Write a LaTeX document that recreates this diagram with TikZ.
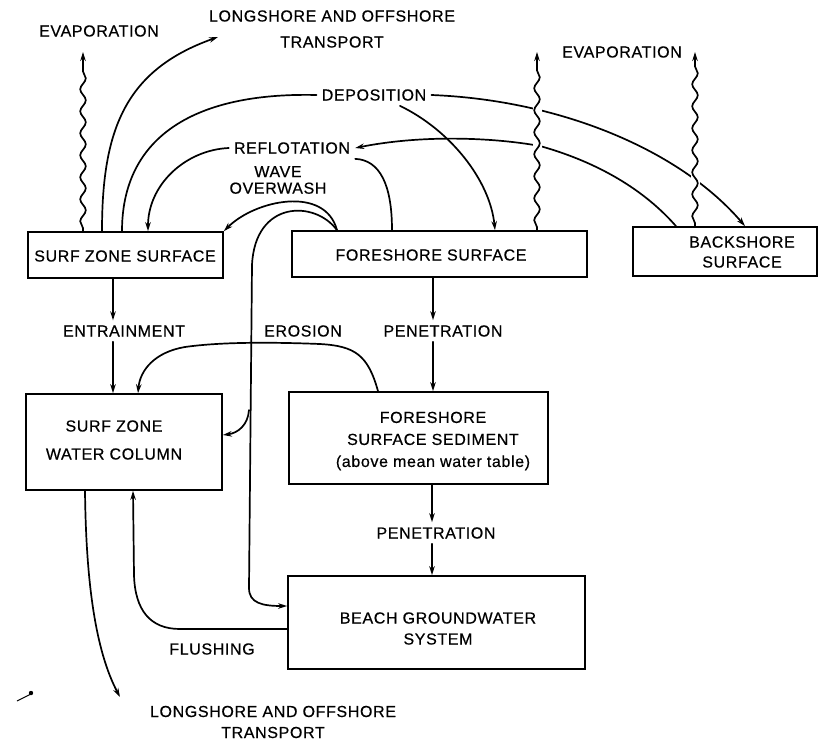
\documentclass[tikz,border=0pt]{standalone}
\usepackage{fontspec}
\setmainfont{Liberation Sans}[LetterSpace=4.0, FakeBold=0.5]
\usetikzlibrary{arrows.meta,decorations.pathmorphing,calc}
\begin{document}
\begin{tikzpicture}[x=1pt,y=-1pt,
  ln/.style={line width=1.7pt, line cap=round},
  arr/.style={-{Stealth[length=9pt,width=5.5pt]}},
  boxn/.style={draw, line width=1.7pt, inner sep=0pt},
  lbl/.style={inner sep=5pt, align=center, font=\fontsize{16}{20}\selectfont},
  wavy/.style={ln, arr, decorate, decoration={snake, amplitude=2.8pt, segment length=22pt, pre length=3pt, post length=9pt}},
  gap/.style={draw=white, line width=9pt}
]
\fill[white] (0,0) rectangle (819,742);
\useasboundingbox (0,0) rectangle (819,742);

% boxes
\node[boxn, minimum width=195pt, minimum height=46pt] (szs) at (125.5,255) {};
\node[boxn, minimum width=295pt, minimum height=46pt] (fss) at (439.5,254) {};
\node[boxn, minimum width=184pt, minimum height=49pt] (bss) at (725,251.5) {};
\node[boxn, minimum width=196pt, minimum height=96pt] (szwc) at (124,442) {};
\node[boxn, minimum width=259pt, minimum height=92pt] (fsed) at (418.5,438) {};
\node[boxn, minimum width=297pt, minimum height=93pt] (bgw) at (436.5,622.5) {};

% box texts
\node[lbl] (szsT) at (125,256) {SURF ZONE SURFACE};
\node[lbl] (fssT) at (431,255) {FORESHORE SURFACE};
\node[lbl] (bssT) at (742,252) {BACKSHORE\\SURFACE};
\node[lbl, font=\fontsize{16}{28}\selectfont] (szwcT) at (114,440) {SURF ZONE\\WATER COLUMN};
\node[lbl, font=\fontsize{16}{22}\selectfont] (fsedT) at (433,441) {FORESHORE\\SURFACE SEDIMENT\\(above mean water table)};
\node[lbl, font=\fontsize{16}{21}\selectfont] (bgwT) at (438,628.5) {BEACH GROUNDWATER\\SYSTEM};

% free labels
\node[lbl] (evapL) at (99,31) {EVAPORATION};
\node[lbl, font=\fontsize{16}{26}\selectfont] (lsTop) at (332,29) {LONGSHORE AND OFFSHORE\\TRANSPORT};
\node[lbl] (dep) at (374,95) {DEPOSITION};
\node[lbl] (refl) at (292,148) {REFLOTATION};
\node[lbl, font=\fontsize{16}{16.5}\selectfont] (wave) at (278,180) {WAVE\\OVERWASH};
\node[lbl] (evapR) at (622,52) {EVAPORATION};
\node[lbl] (entr) at (124,331) {ENTRAINMENT};
\node[lbl] (eros) at (303,331) {EROSION};
\node[lbl] (pen1) at (443,331) {PENETRATION};
\node[lbl] (pen2) at (436,533) {PENETRATION};
\node[lbl] (flush) at (212,649) {FLUSHING};
\node[lbl, font=\fontsize{16}{21}\selectfont] (lsBot) at (273,722) {LONGSHORE AND OFFSHORE\\TRANSPORT};

% free ends
\coordinate (lsTopTip) at (218,37);
\coordinate (lsBotTip) at (120,697);
\coordinate (evTip1) at (83,52);
\coordinate (evTip2) at (537,52);
\coordinate (evTip3) at (695,52);
\coordinate (ovbr) at (249,410);

% longshore (top)
\draw[ln, arr] (102,0 |- szs.north) .. controls (102,130) and (125,70) .. (lsTopTip);
% deposition
\draw[ln] (dep.west) .. controls (190,92) and (122,140) .. (122,0 |- szs.north);
\draw[ln, arr] (dep.east) .. controls (560,100) and (680,150) .. (745,0 |- bss.north);
\draw[ln, arr] (400,0 |- dep.south) .. controls (450,130) and (490,180) .. (495,0 |- fss.north);
% reflotation
\draw[ln, arr] (676,0 |- bss.north) .. controls (640,185) and (590,160) .. (540,146)
   .. controls (490,137) and (420,135) .. (refl.east);
\draw[ln] (392,0 |- fss.north) .. controls (392,185) and (380,160) .. (refl.south east);
\draw[ln, arr] (refl.west) .. controls (185,150) and (148,185) .. (148,0 |- szs.north);
% wave overwash
\draw[ln, arr] (337,0 |- fss.north) .. controls (325,185) and (255,200) .. (szs.north east);
\draw[ln, arr] (337,0 |- fss.north) .. controls (315,200) and (255,200) .. (252,265)
   -- (249,588) .. controls (249,603) and (262,606) .. (bgw.west |- 0,606);
\draw[ln, arr] (ovbr) .. controls (248,425) and (238,433) .. (szwc.east |- 0,435);
% erosion
\draw[ln, arr] (378,0 |- fsed.north) .. controls (368,355) and (355,346) .. (320,344)
   .. controls (270,342) and (220,342) .. (185,347)
   .. controls (155,352) and (140,370) .. (138,0 |- szwc.north);
% vertical flows
\draw[ln, arr] (113,0 |- szs.south) -- (113,0 |- entr.north);
\draw[ln, arr] (113,0 |- entr.south) -- (113,0 |- szwc.north);
\draw[ln, arr] (433,0 |- fss.south) -- (433,0 |- pen1.north);
\draw[ln, arr] (433,0 |- pen1.south) -- (433,0 |- fsed.north);
\draw[ln, arr] (432,0 |- fsed.south) -- (432,0 |- pen2.north);
\draw[ln, arr] (432,0 |- pen2.south) -- (432,0 |- bgw.north);
% flushing
\draw[ln, arr] (bgw.west |- 0,629) -- (180,629) .. controls (150,629) and (135,610) .. (134,575)
   -- (133,0 |- szwc.south);
% longshore (bottom)
\draw[ln, arr] (85,0 |- szwc.south) .. controls (86,580) and (95,650) .. (lsBotTip);

% evaporation (wavy) with gaps in the crossing lines
\draw[gap] (537,100) -- (537,175);
\draw[gap] (695,120) -- (695,200);
\draw[wavy] (83,0 |- szs.north) -- (evTip1);
\draw[wavy] (537,0 |- fss.north) -- (evTip2);
\draw[wavy] (695,0 |- bss.north) -- (evTip3);

% stray pen mark
\draw[line width=1pt] (17,701) -- (31,694);
\fill (31,693) circle (2.2);
\end{tikzpicture}
\end{document}
